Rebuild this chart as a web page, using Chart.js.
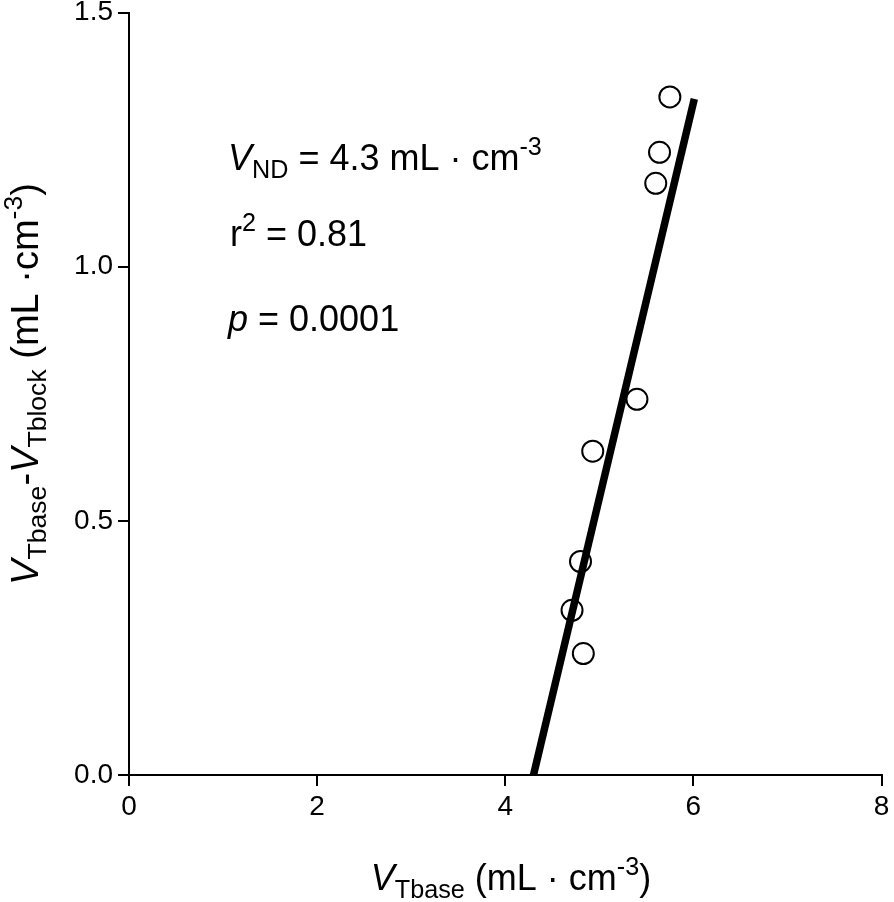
<!DOCTYPE html>
<html>
<head>
<meta charset="utf-8">
<script src="https://cdn.jsdelivr.net/npm/chart.js@4"></script>
<style>
  html, body { margin: 0; padding: 0; background: #fff; }
  #wrap { width: 894px; height: 902px; }
</style>
</head>
<body>
<div id="wrap"><canvas id="chart" width="894" height="902"></canvas></div>
<script>
// measured points (VTbase vs VTbase - VTblock)
const vTbase = [5.75, 5.64, 5.60, 5.40, 4.93, 4.80, 4.71, 4.83];
const vDiff = [1.334, 1.225, 1.164, 0.739, 0.637, 0.420, 0.324, 0.239];

// regression line ends
const fitX = [4.30, 6.01];
const fitY = [0, 1.33];

const xTicks = [0, 2, 4, 6, 8];
const yTicks = [0, 0.5, 1.0, 1.5];

const FONT = "'Liberation Sans', Arial, Helvetica, sans-serif";

// draw a run of text pieces with italic / sub / sup
function richWidth(ctx, parts, size) {
    let w = 0;
    parts.forEach(p => {
        const s = (p.sub || p.sup) ? size * 0.7 : size;
        ctx.font = (p.it ? 'italic ' : '') + s + 'px ' + FONT;
        w += ctx.measureText(p.t).width;
    });
    return w;
}

function drawRich(ctx, parts, x, y, size, align) {
    let cx = x;
    if (align === 'center') cx = x - richWidth(ctx, parts, size) / 2;
    ctx.textBaseline = 'alphabetic';
    ctx.textAlign = 'left';
    ctx.fillStyle = '#000';
    parts.forEach(p => {
        const s = (p.sub || p.sup) ? size * 0.7 : size;
        ctx.font = (p.it ? 'italic ' : '') + s + 'px ' + FONT;
        let dy = 0;
        if (p.sub) dy = size * 0.22;
        if (p.sup) dy = -size * 0.42;
        ctx.fillText(p.t, cx, y + dy);
        cx += ctx.measureText(p.t).width;
    });
}

const textPlugin = {
    id: 'texts',
    afterDraw(chart) {
        const ctx = chart.ctx;
        ctx.save();
        const sz = 36;
        drawRich(ctx, [{t: 'V', it: true}, {t: 'ND', sub: true}, {t: ' = 4.3 mL \u00b7 cm'}, {t: '-3', sup: true}], 228, 170, sz);
        drawRich(ctx, [{t: 'r'}, {t: '2', sup: true}, {t: ' = 0.81'}], 230, 246, sz);
        drawRich(ctx, [{t: 'p', it: true}, {t: ' = 0.0001'}], 228, 331, sz);

        // x title
        drawRich(ctx, [{t: 'V', it: true}, {t: 'Tbase', sub: true}, {t: ' (mL \u00b7 cm'}, {t: '-3', sup: true}, {t: ')'}], 511, 890, sz, 'center');

        // y title, rotated
        ctx.translate(38, 384);
        ctx.rotate(-Math.PI / 2);
        drawRich(ctx, [{t: 'V', it: true}, {t: 'Tbase', sub: true}, {t: '-'}, {t: 'V', it: true}, {t: 'Tblock', sub: true}, {t: ' (mL \u00b7cm'}, {t: '-3', sup: true}, {t: ')'}], 0, 0, 38, 'center');
        ctx.restore();
    }
};

const ctx = document.getElementById('chart').getContext('2d');
new Chart(ctx, {
    type: 'scatter',
    data: {
        datasets: [
            {
                label: 'fit',
                type: 'line',
                data: fitX.map((x, i) => ({x: x, y: fitY[i]})),
                borderColor: '#000',
                borderWidth: 7.5,
                pointRadius: 0,
                fill: false,
                order: 0
            },
            {
                label: 'data',
                data: vTbase.map((x, i) => ({x: x, y: vDiff[i]})),
                pointStyle: 'circle',
                pointRadius: 10.5,
                pointBorderWidth: 2,
                pointBackgroundColor: '#fff',
                pointBorderColor: '#000',
                order: 1
            }
        ]
    },
    options: {
        responsive: false,
        animation: false,
        events: [],
        layout: { padding: { top: 12, right: 9, left: 0, bottom: 0 } },
        plugins: {
            legend: { display: false },
            tooltip: { enabled: false }
        },
        scales: {
            x: {
                type: 'linear',
                min: 0,
                max: 8,
                afterBuildTicks: scale => { scale.ticks = xTicks.map(v => ({value: v})); },
                ticks: {
                    color: '#000',
                    font: { family: FONT, size: 28 },
                    padding: 4,
                    maxRotation: 0,
                    callback: v => String(v)
                },
                grid: { drawOnChartArea: false, drawTicks: true, tickLength: 11, color: '#000', lineWidth: 2 },
                border: { display: true, color: '#000', width: 2 },
                afterFit: scale => { scale.height = 127; scale.paddingLeft = 0; scale.paddingRight = 0; }
            },
            y: {
                type: 'linear',
                min: 0,
                max: 1.5,
                afterBuildTicks: scale => { scale.ticks = yTicks.map(v => ({value: v})); },
                ticks: {
                    color: '#000',
                    font: { family: FONT, size: 28 },
                    padding: 5,
                    callback: v => v.toFixed(1)
                },
                grid: { drawOnChartArea: false, drawTicks: true, tickLength: 11, color: '#000', lineWidth: 2 },
                border: { display: true, color: '#000', width: 2 },
                afterFit: scale => { scale.width = 129; scale.paddingTop = 0; scale.paddingBottom = 0; }
            }
        }
    },
    plugins: [textPlugin]
});
</script>
</body>
</html>
